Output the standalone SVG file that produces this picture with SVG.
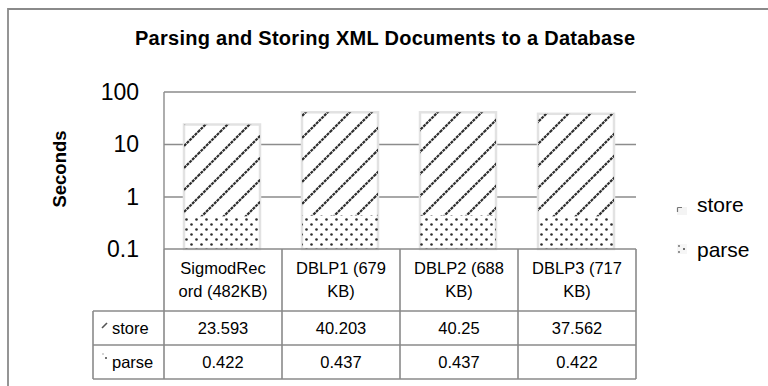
<svg xmlns="http://www.w3.org/2000/svg" width="768" height="386" viewBox="0 0 768 386">
  <defs>
    <pattern id="hatch" patternUnits="userSpaceOnUse" width="22" height="22">
      <path d="M0,22 L22,0 M-3,3 L3,-3 M19,25 L25,19" stroke="#2e2e2e" stroke-width="2.2" stroke-dasharray="3 0.8" fill="none"/>
    </pattern>
    <pattern id="dots" patternUnits="userSpaceOnUse" width="10" height="10" x="184" y="217">
      <circle cx="2.5" cy="2.5" r="1.3" fill="#2e2e2e"/>
      <circle cx="7.5" cy="7.5" r="1.3" fill="#2e2e2e"/>
    </pattern>
  </defs>
  <style>
    .t { font-family: "Liberation Sans", Arial, sans-serif; fill: #000; }
    .grid { stroke: #8c8c8c; stroke-width: 1.4; fill: none; }
    .tbl { stroke: #8a8a8a; stroke-width: 1.6; fill: none; }
    .ax { font-size: 23px; text-anchor: end; }
    .cell { font-size: 16.5px; text-anchor: middle; }
    .key { font-size: 16.5px; }
    .leg { font-size: 21px; }
    .barbase { fill: #fff; stroke: #e2e2e2; stroke-width: 2.5; }
  </style>

  <rect x="0" y="0" width="768" height="386" fill="#fff"/>
  <g id="frame">
    <path d="M8,392 L8,9 L775,9" stroke="#8a8a8a" stroke-width="1.8" fill="none"/>
  </g>

  <g id="title">
    <text class="t" x="385" y="45" font-size="20" font-weight="bold" text-anchor="middle" textLength="500">Parsing and Storing XML Documents to a Database</text>
  </g>

  <g id="axis">
    <path class="grid" d="M164,92 L636,92 M164,144.5 L636,144.5 M164,197 L636,197 M164,92 L164,249"/>
    <text class="t ax" x="139" y="100">100</text>
    <text class="t ax" x="139" y="152">10</text>
    <text class="t ax" x="139" y="205">1</text>
    <text class="t ax" x="139" y="257">0.1</text>
    <text class="t" transform="translate(66,169) rotate(-90)" font-size="18.5" font-weight="bold" text-anchor="middle">Seconds</text>
  </g>

  <g id="bar-sigmodrecord">
    <rect class="barbase" x="184" y="124.5" width="76" height="124.5"/>
    <rect x="184" y="124.5" width="76" height="91.8" fill="url(#hatch)"/>
    <rect x="184" y="216.3" width="76" height="32.7" fill="url(#dots)"/>
  </g>
  <g id="bar-dblp1">
    <rect class="barbase" x="302" y="112.3" width="76" height="136.7"/>
    <rect x="302" y="112.3" width="76" height="103.1" fill="url(#hatch)"/>
    <rect x="302" y="215.4" width="76" height="33.6" fill="url(#dots)"/>
  </g>
  <g id="bar-dblp2">
    <rect class="barbase" x="420" y="112.3" width="76" height="136.7"/>
    <rect x="420" y="112.3" width="76" height="103.1" fill="url(#hatch)"/>
    <rect x="420" y="215.4" width="76" height="33.6" fill="url(#dots)"/>
  </g>
  <g id="bar-dblp3">
    <rect class="barbase" x="538" y="113.8" width="76" height="135.2"/>
    <rect x="538" y="113.8" width="76" height="102.5" fill="url(#hatch)"/>
    <rect x="538" y="216.3" width="76" height="32.7" fill="url(#dots)"/>
  </g>

  <g id="table">
    <path class="tbl" d="M164,249 L636,249 M93,311 L636,311 M93,345 L636,345 M93,379 L636,379 M93,311 L93,379 M164,249 L164,379 M282,249 L282,379 M400,249 L400,379 M518,249 L518,379 M636,249 L636,379"/>
    <text class="t cell" x="223" y="274">SigmodRec</text>
    <text class="t cell" x="223" y="297">ord (482KB)</text>
    <text class="t cell" x="341" y="274">DBLP1 (679</text>
    <text class="t cell" x="341" y="297">KB)</text>
    <text class="t cell" x="459" y="274">DBLP2 (688</text>
    <text class="t cell" x="459" y="297">KB)</text>
    <text class="t cell" x="577" y="274">DBLP3 (717</text>
    <text class="t cell" x="577" y="297">KB)</text>

    <path d="M102,328 L107,323" stroke="#555" stroke-width="1.6"/>
    <text class="t key" x="112" y="334">store</text>
    <circle cx="103" cy="354" r="0.7" fill="#888"/>
    <circle cx="106" cy="358" r="1" fill="#444"/>
    <text class="t key" x="112" y="368">parse</text>

    <text class="t cell" x="223" y="334">23.593</text>
    <text class="t cell" x="341" y="334">40.203</text>
    <text class="t cell" x="459" y="334">40.25</text>
    <text class="t cell" x="577" y="334">37.562</text>
    <text class="t cell" x="223" y="368">0.422</text>
    <text class="t cell" x="341" y="368">0.437</text>
    <text class="t cell" x="459" y="368">0.437</text>
    <text class="t cell" x="577" y="368">0.422</text>
  </g>

  <g id="legend">
    <rect x="677" y="207" width="10" height="8" fill="#f4f4f4"/>
    <path d="M677.5,207.5 L682,207.5 M677.5,207.5 L677.5,212" stroke="#777" stroke-width="1.2"/>
    <text class="t leg" x="697" y="212">store</text>
    <rect x="677" y="244" width="10" height="10" fill="#f6f6f6"/>
    <circle cx="679" cy="246" r="0.9" fill="#666"/>
    <circle cx="684" cy="249" r="1" fill="#444"/>
    <circle cx="679" cy="252" r="0.9" fill="#666"/>
    <text class="t leg" x="697" y="257">parse</text>
  </g>
</svg>
